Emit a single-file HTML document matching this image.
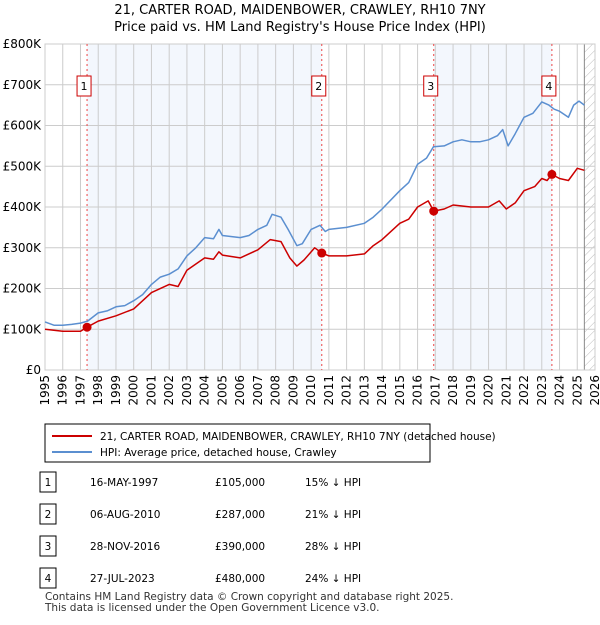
<!DOCTYPE html>
<html><head><meta charset="utf-8"><style>
body{margin:0;background:#fff;font-family:"Liberation Sans","DejaVu Sans",sans-serif;}
</style></head><body>
<svg width="600" height="620" xmlns="http://www.w3.org/2000/svg" font-family="DejaVu Sans, Liberation Sans, sans-serif">
<text x="300" y="14" text-anchor="middle" font-size="13">21, CARTER ROAD, MAIDENBOWER, CRAWLEY, RH10 7NY</text>
<text x="300" y="31" text-anchor="middle" font-size="13">Price paid vs. HM Land Registry's House Price Index (HPI)</text>
<defs><pattern id="hatch" width="6" height="6" patternUnits="userSpaceOnUse" patternTransform="rotate(45)"><line x1="0" y1="0" x2="0" y2="6" stroke="#bbb" stroke-width="1"/></pattern></defs>
<g id="plot"></g>
<g id="legend">
<rect x="45" y="424" width="385" height="38" fill="#fff" stroke="#000" stroke-width="1"/>
<line x1="52" y1="436" x2="92" y2="436" stroke="#cc0000" stroke-width="2"/>
<text x="100" y="440" font-size="10.5">21, CARTER ROAD, MAIDENBOWER, CRAWLEY, RH10 7NY (detached house)</text>
<line x1="52" y1="452" x2="92" y2="452" stroke="#5b8fd0" stroke-width="2"/>
<text x="100" y="456" font-size="10.5">HPI: Average price, detached house, Crawley</text>
</g>
<g id="table" font-size="10.5"></g>
<text x="45" y="600" font-size="10.5" fill="#333">Contains HM Land Registry data © Crown copyright and database right 2025.</text>
<text x="45" y="611" font-size="10.5" fill="#333">This data is licensed under the Open Government Licence v3.0.</text>
</svg>
<script>
const hpiYears=[1995,1995.5,1996,1996.5,1997,1997.4,1998,1998.5,1999,1999.5,2000,2000.5,2001,2001.5,2002,2002.5,2003,2003.5,2004,2004.5,2004.8,2005,2006,2006.5,2007,2007.5,2007.8,2008.3,2008.7,2009.2,2009.5,2010,2010.5,2010.8,2011,2012,2013,2013.5,2014,2015,2015.5,2016,2016.5,2016.9,2017.5,2018,2018.5,2019,2019.5,2020,2020.5,2020.8,2021.1,2021.5,2022,2022.5,2023,2023.4,2023.7,2024,2024.5,2024.8,2025.1,2025.4];
const hpiValues=[118,110,110,112,115,120,140,145,155,158,170,185,210,228,235,248,280,300,325,322,345,330,325,330,345,355,382,375,345,305,310,345,355,340,345,350,360,375,395,440,460,505,520,548,550,560,565,560,560,565,575,590,550,580,620,630,658,650,640,635,620,650,660,650];
const ppYears=[1995,1996,1997,1997.37,1998,1999,2000,2001,2002,2002.5,2003,2004,2004.5,2004.8,2005,2006,2007,2007.7,2008.3,2008.8,2009.2,2009.6,2010.2,2010.6,2011,2012,2013,2013.5,2014,2015,2015.5,2016,2016.6,2016.91,2017.5,2018,2019,2020,2020.6,2021,2021.5,2022,2022.6,2023,2023.3,2023.57,2024,2024.5,2025,2025.4];
const ppValues=[100,95,95,105,120,133,150,190,210,205,245,275,272,290,282,275,295,320,315,275,255,270,300,287,280,280,285,305,320,360,370,400,415,390,395,405,400,400,415,395,410,440,450,470,465,480,470,465,495,490];
const saleYears=[1997.37,2010.6,2016.91,2023.57];
const saleValues=[105,287,390,480];
const saleDates=["16-MAY-1997","06-AUG-2010","28-NOV-2016","27-JUL-2023"];
const salePrices=["£105,000","£287,000","£390,000","£480,000"];
const saleDiffs=["15% ↓ HPI","21% ↓ HPI","28% ↓ HPI","24% ↓ HPI"];
const yTicks=[0,100,200,300,400,500,600,700,800];
const yTickLabels=["£0","£100K","£200K","£300K","£400K","£500K","£600K","£700K","£800K"];
const xTicks=[1995,1996,1997,1998,1999,2000,2001,2002,2003,2004,2005,2006,2007,2008,2009,2010,2011,2012,2013,2014,2015,2016,2017,2018,2019,2020,2021,2022,2023,2024,2025,2026];
const dataEnd=2025.4;
const L=45,R=595,T=44,B=370,X0=1995,X1=2026;
const xs=y=>L+(y-X0)/(X1-X0)*(R-L);
const ys=v=>B-v/800*(B-T);
const NS="http://www.w3.org/2000/svg";
const plot=document.getElementById('plot');
function mk(t,a,p){const e=document.createElementNS(NS,t);for(const k in a)e.setAttribute(k,a[k]);(p||plot).appendChild(e);return e;}
for(let i=0;i<saleYears.length;i+=2){const x1=xs(saleYears[i]),x2=xs(saleYears[i+1]);
const r=mk('rect',{x:x1,y:T,width:x2-x1,height:B-T,fill:'#eef3fc',opacity:0.7});

}
const h=mk('rect',{x:xs(dataEnd),y:T,width:R-xs(dataEnd),height:B-T,fill:'url(#hatch)'});


yTicks.forEach((v,i)=>{mk('line',{x1:L,x2:R,y1:ys(v),y2:ys(v),stroke:'#ccc','stroke-width':1});
const t=mk('text',{x:L-4,y:ys(v)+4,'text-anchor':'end','font-size':12});t.textContent=yTickLabels[i];

});
xTicks.forEach(y=>{mk('line',{x1:xs(y),x2:xs(y),y1:T,y2:B,stroke:'#ccc','stroke-width':1});
const t=mk('text',{x:0,y:0,'text-anchor':'end','font-size':12,transform:`translate(${xs(y)+4},${B+5}) rotate(-90)`});t.textContent=y;

});
mk('line',{x1:xs(dataEnd),x2:xs(dataEnd),y1:T,y2:B,stroke:'#888','stroke-width':1});
mk('rect',{x:L,y:T,width:R-L,height:B-T,fill:'none',stroke:'#ccc'});
saleYears.forEach((y,i)=>{mk('line',{x1:xs(y),x2:xs(y),y1:T,y2:B,stroke:'#ee4444','stroke-width':1,'stroke-dasharray':'2,3'});
const b=mk('rect',{x:xs(y)-10,y:76,width:14,height:20,fill:'#fff',stroke:'#cc0000'});


const t=mk('text',{x:xs(y)-3,y:90,'text-anchor':'middle','font-size':11});t.textContent=i+1;});
function line(xa,va,col,name){const d=xa.map((x,i)=>(i?'L':'M')+xs(x).toFixed(1)+','+ys(va[i]).toFixed(1)).join('');
const p=mk('path',{d:d,fill:'none',stroke:col,'stroke-width':1.5,'stroke-linejoin':'round'});

}
line(hpiYears,hpiValues,'#5b8fd0','hpi-line');
line(ppYears,ppValues,'#cc0000','price-paid-line');
saleYears.forEach((y,i)=>{const c=mk('circle',{cx:xs(y),cy:ys(saleValues[i]),r:4.5,fill:'#cc0000'});

});
const tb=document.getElementById('table');
saleDates.forEach((d,i)=>{const yy=482+i*32;
const b=mk('rect',{x:40,y:yy-10,width:16,height:20,fill:'#fff',stroke:'#000'},tb);


let t=mk('text',{x:48,y:yy+4,'text-anchor':'middle'},tb);t.textContent=i+1;
t=mk('text',{x:90,y:yy+4},tb);t.textContent=d;


t=mk('text',{x:215,y:yy+4},tb);t.textContent=salePrices[i];


t=mk('text',{x:305,y:yy+4},tb);t.textContent=saleDiffs[i];

});
</script>
</body></html>
